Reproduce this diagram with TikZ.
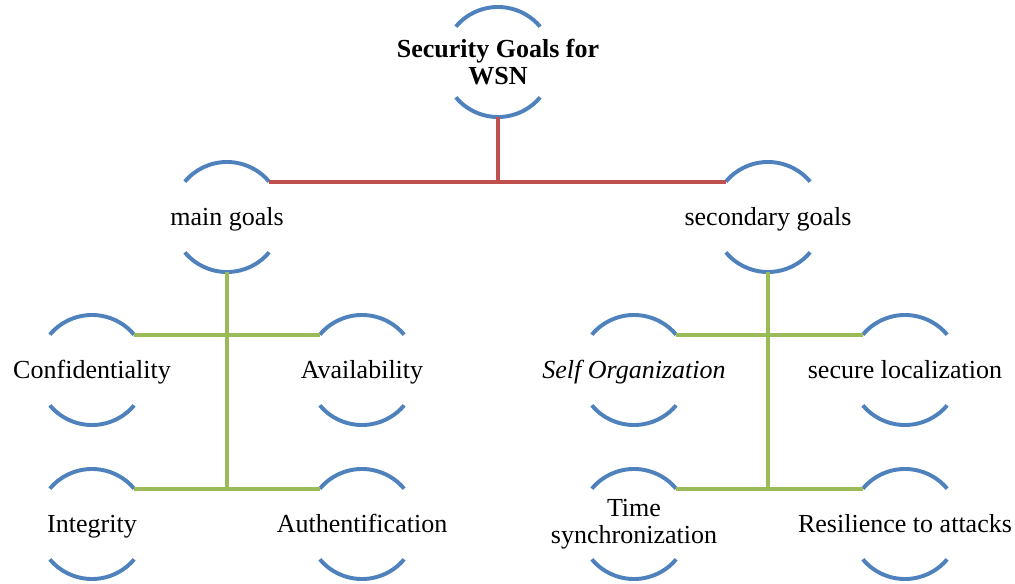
\documentclass[tikz,border=0pt]{standalone}
\usepackage{fontspec}
\setmainfont{Liberation Serif}
\usetikzlibrary{calc}

\definecolor{ringblue}{RGB}{79,129,189}
\definecolor{linkred}{RGB}{192,80,77}
\definecolor{linkgreen}{RGB}{155,187,89}

\begin{document}
\begin{tikzpicture}[x=0.025cm, y=-0.025cm,
  goal/.style={align=center, inner sep=0pt, font=\fontsize{18.5}{19}\selectfont},
  oneline/.style={goal, text height=16pt, text depth=4pt},
  ring/.style={draw=ringblue, line width=2.8pt},
  redlink/.style={draw=linkred, line width=2.8pt},
  greenlink/.style={draw=linkgreen, line width=2.8pt}]

\useasboundingbox (0,0) rectangle (1015,584);
\def\r{1.375cm}

% top of the tree
\node[goal, font=\fontsize{18.5}{19}\selectfont\bfseries] (root) at (498,62) {Security Goals for\\WSN};
\node[oneline] (main) at (227,217) {main goals};
\node[oneline] (sec) at (768,217) {secondary goals};

% main goals
\node[oneline] (conf) at (92,370) {Confidentiality};
\node[oneline] (avail) at (362,370) {Availability};
\node[oneline] (integ) at (92,524) {Integrity};
\node[oneline] (auth) at (362,524) {Authentification};

% secondary goals
\node[oneline, font=\fontsize{18.5}{19}\selectfont\itshape] (self) at (634,370) {Self Organization};
\node[oneline] (loc) at (905,370) {secure localization};
\node[goal] (time) at (634,524) {Time\\synchronization};
\node[oneline] (resil) at (905,524) {Resilience to attacks};

% arcs above and below every goal
\foreach \n in {root,main,sec,conf,avail,integ,auth,self,loc,time,resil} {
  \draw[ring] ($(\n.center)+(140:\r)$) arc[start angle=140, end angle=40, radius=\r];
  \draw[ring] ($(\n.center)+(220:\r)$) arc[start angle=220, end angle=320, radius=\r];
  \coordinate (\n-tl) at ($(\n.center)+(140:\r)$);
  \coordinate (\n-tr) at ($(\n.center)+(40:\r)$);
  \coordinate (\n-b) at ($(\n.center)+(270:\r)$);
}

\path[redlink] (main-tr) -- (sec-tl);
\path[redlink] (root-b) -- (root-b |- main-tr);

\path[greenlink] (main-b) -- (main-b |- integ-tr);
\path[greenlink] (conf-tr) -- (avail-tl);
\path[greenlink] (integ-tr) -- (auth-tl);

\path[greenlink] (sec-b) -- (sec-b |- time-tr);
\path[greenlink] (self-tr) -- (loc-tl);
\path[greenlink] (time-tr) -- (resil-tl);

\end{tikzpicture}
\end{document}
